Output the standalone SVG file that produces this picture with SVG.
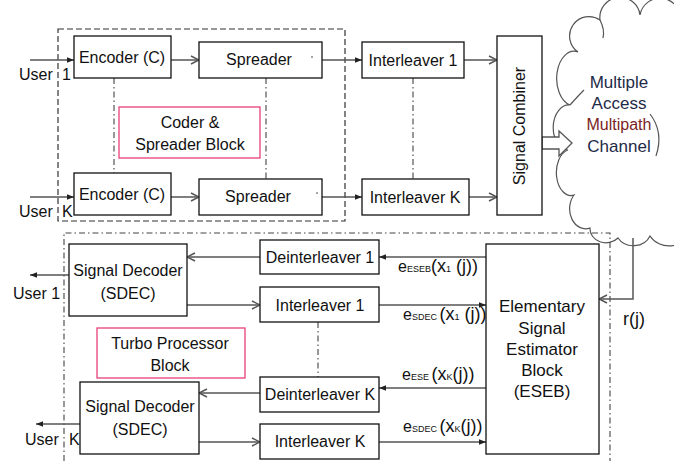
<svg xmlns="http://www.w3.org/2000/svg" width="674" height="461" viewBox="0 0 674 461">
<style>
text{font-family:"Liberation Sans",Arial,sans-serif;font-size:16px;fill:#111}
.box{fill:#fff;stroke:#111;stroke-width:1.3}
.pink{fill:#fff;stroke:#e8407a;stroke-width:1.3}
.ln{fill:none;stroke:#555;stroke-width:1.5}
.dd{fill:none;stroke:#444;stroke-width:1.1;stroke-dasharray:6 3 1.5 3}
.dash{fill:none;stroke:#333;stroke-width:1.2;stroke-dasharray:6 3}
.mid{text-anchor:middle}
.s{font-size:9px}
.b{font-size:18px}
</style>
<defs>
<marker id="op" viewBox="0 0 10 10" refX="9" refY="5" markerWidth="10" markerHeight="10" markerUnits="userSpaceOnUse" orient="auto"><path d="M1,1 L9,5 L1,9" fill="none" stroke="#555" stroke-width="1.5"/></marker>
<marker id="fi" viewBox="0 0 10 10" refX="10" refY="5" markerWidth="7" markerHeight="7" markerUnits="userSpaceOnUse" orient="auto"><path d="M0,1 L10,5 L0,9 Z" fill="#222"/></marker>
</defs>
<rect width="674" height="461" fill="#fff"/>

<!-- cloud -->
<g id="cloud">
<path d="M578,52 A18,18 0 0 1 600,20 A20,20 0 0 1 640,15 A20,20 0 0 1 680,22 L690,22 L690,232 A22,20 0 0 1 650,236 A18,16 0 0 1 618,238 A16,14 0 0 1 590,228 A16,20 0 0 1 574,195 A14,22 0 0 1 568,150 A14,20 0 0 1 570,105 A14,22 0 0 1 578,52 Z" fill="#fff" stroke="#555" stroke-width="1.2"/>
<path d="M650,114 Q664,132 656,156" fill="none" stroke="#555" stroke-width="1.2"/>
<path d="M570,105 Q578,96 584,90" fill="none" stroke="#555" stroke-width="1.2"/>
<path d="M600,20 Q605,30 603,38" fill="none" stroke="#555" stroke-width="1.2"/>
<text x="619" y="88" class="mid" style="fill:#1e2a48;font-size:17px">Multiple</text>
<text x="619" y="109" class="mid" style="fill:#1e2a48;font-size:17px">Access</text>
<text x="619" y="130" class="mid" style="fill:#7a1e1e;font-size:16px">Multipath</text>
<text x="619" y="152" class="mid" style="fill:#1e2a48;font-size:17px">Channel</text>
</g>

<!-- block containers -->
<g id="coder-block">
<rect x="58" y="29" width="287" height="192" class="dash"/>
<rect x="119" y="107" width="141" height="51" class="pink"/>
<text x="190" y="128" class="mid">Coder &amp;</text>
<text x="190" y="150" class="mid">Spreader Block</text>
</g>
<g id="turbo-block">
<path d="M64,461 L64,233 L610,233 L610,461" class="dd"/>
<rect x="97" y="328" width="148" height="50" class="pink"/>
<text x="170" y="349" class="mid">Turbo Processor</text>
<text x="170" y="371" class="mid">Block</text>
</g>

<!-- connectors -->
<g id="connectors">
<line x1="30" y1="60" x2="74" y2="60" class="ln" marker-end="url(#fi)"/>
<line x1="30" y1="197" x2="74" y2="197" class="ln" marker-end="url(#fi)"/>
<line x1="171" y1="60" x2="199" y2="60" class="ln" marker-end="url(#op)"/>
<line x1="171" y1="197" x2="199" y2="197" class="ln" marker-end="url(#op)"/>
<line x1="322" y1="60" x2="362" y2="60" class="ln" marker-end="url(#fi)"/>
<line x1="322" y1="197" x2="362" y2="197" class="ln" marker-end="url(#fi)"/>
<line x1="464" y1="60" x2="497" y2="60" class="ln" marker-end="url(#op)"/>
<line x1="469" y1="197" x2="497" y2="197" class="ln" marker-end="url(#op)"/>
<line x1="114" y1="78" x2="114" y2="173" class="dd"/>
<line x1="266" y1="78" x2="266" y2="179" class="dd"/>
<line x1="413" y1="78" x2="413" y2="179" class="dd"/>
<line x1="318" y1="322" x2="318" y2="377" class="dd"/>
<line x1="486" y1="257" x2="379" y2="257" class="ln" marker-end="url(#fi)"/>
<line x1="260" y1="257" x2="187" y2="257" class="ln" marker-end="url(#op)"/>
<line x1="69" y1="275" x2="30" y2="275" class="ln" marker-end="url(#fi)"/>
<line x1="187" y1="305" x2="260" y2="305" class="ln" marker-end="url(#op)"/>
<line x1="379" y1="305" x2="486" y2="305" class="ln" marker-end="url(#fi)"/>
<line x1="486" y1="388" x2="379" y2="388" class="ln" marker-end="url(#fi)"/>
<line x1="260" y1="393" x2="199" y2="393" class="ln" marker-end="url(#op)"/>
<line x1="80" y1="424" x2="36" y2="424" class="ln" marker-end="url(#fi)"/>
<line x1="199" y1="442" x2="260" y2="442" class="ln" marker-end="url(#op)"/>
<line x1="379" y1="442" x2="486" y2="442" class="ln" marker-end="url(#fi)"/>
<path d="M633,238 L633,299 L599,299" class="ln" marker-end="url(#op)"/>
<polygon points="542,137 559,137 559,131 572,143 559,156 559,149 542,149" fill="#fff" stroke="#555" stroke-width="1.3"/>
</g>

<!-- labels -->
<g id="labels">
<text x="19" y="80">User</text><text x="62" y="80">1</text>
<text x="19" y="217">User</text><text x="62" y="217">K</text>
<text x="13" y="299">User 1</text>
<text x="25" y="445">User</text><text x="69" y="445">K</text>
<text x="398" y="272">e<tspan class="s">ESEB</tspan><tspan class="b">(x</tspan><tspan class="s">1</tspan><tspan class="b"> (j))</tspan></text>
<text x="403" y="320">e<tspan class="s">SDEC </tspan><tspan class="b">(x</tspan><tspan class="s">1</tspan><tspan class="b"> (j))</tspan></text>
<text x="402" y="380">e<tspan class="s">ESE </tspan><tspan class="b">(x</tspan><tspan class="s">K</tspan><tspan class="b">(j))</tspan></text>
<text x="403" y="432">e<tspan class="s">SDEC </tspan><tspan class="b">(x</tspan><tspan class="s">K</tspan><tspan class="b">(j))</tspan></text>
<text x="623" y="325" class="b">r(j)</text>
</g>

<!-- nodes -->
<g id="encoder1"><rect x="74" y="36" width="97" height="42" class="box"/><text x="122" y="63" class="mid">Encoder (C)</text></g>
<g id="spreader1"><rect x="199" y="42" width="123" height="36" class="box"/><text x="259" y="65" class="mid">Spreader</text><circle cx="312" cy="57" r="0.8" fill="#333"/></g>
<g id="encoderK"><rect x="74" y="173" width="97" height="42" class="box"/><text x="122" y="200" class="mid">Encoder (C)</text></g>
<g id="spreaderK"><rect x="199" y="179" width="123" height="36" class="box"/><text x="258" y="202" class="mid">Spreader</text><circle cx="317" cy="193" r="0.8" fill="#333"/></g>
<g id="interleaver1-tx"><rect x="362" y="42" width="102" height="36" class="box"/><text x="413" y="66" class="mid">Interleaver 1</text></g>
<g id="interleaverK-tx"><rect x="362" y="179" width="107" height="36" class="box"/><text x="415" y="203" class="mid">Interleaver K</text></g>
<g id="combiner"><rect x="497" y="36" width="45" height="179" class="box"/><text transform="translate(525,126) rotate(-90)" class="mid">Signal Combiner</text></g>
<g id="sdec1"><rect x="69" y="244" width="118" height="72" class="box"/><text x="128" y="276" class="mid">Signal Decoder</text><text x="128" y="299" class="mid">(SDEC)</text></g>
<g id="sdecK"><rect x="80" y="382" width="119" height="72" class="box"/><text x="140" y="412" class="mid">Signal Decoder</text><text x="140" y="435" class="mid">(SDEC)</text></g>
<g id="deinterleaver1"><rect x="260" y="240" width="119" height="34" class="box"/><text x="320" y="263" class="mid">Deinterleaver 1</text></g>
<g id="interleaver1-rx"><rect x="260" y="287" width="119" height="35" class="box"/><text x="320" y="311" class="mid">Interleaver 1</text></g>
<g id="deinterleaverK"><rect x="260" y="377" width="119" height="35" class="box"/><text x="320" y="400" class="mid">Deinterleaver K</text></g>
<g id="interleaverK-rx"><rect x="260" y="424" width="119" height="35" class="box"/><text x="320" y="447" class="mid">Interleaver K</text></g>
<g id="eseb"><rect x="486" y="244" width="113" height="210" class="box"/>
<text x="542" y="312" class="mid" style="font-size:17px">Elementary</text>
<text x="542" y="334" class="mid" style="font-size:17px">Signal</text>
<text x="542" y="355" class="mid" style="font-size:17px">Estimator</text>
<text x="542" y="376" class="mid" style="font-size:17px">Block</text>
<text x="542" y="397" class="mid" style="font-size:17px">(ESEB)</text></g>
</svg>
